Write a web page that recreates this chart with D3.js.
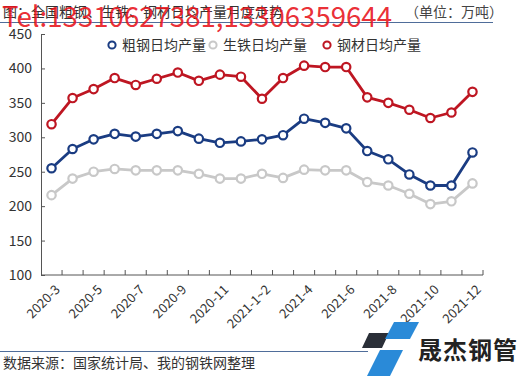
<!DOCTYPE html>
<html><head><meta charset="utf-8">
<script src="https://cdn.jsdelivr.net/npm/d3@7/dist/d3.min.js"></script>
<style>
body{margin:0;background:#fff;}
text{font-family:"Noto Sans CJK SC","Noto Sans",sans-serif;}
</style></head>
<body><svg id="c" width="520" height="376"></svg>
<script>
const categories = ["2020-3","2020-4","2020-5","2020-6","2020-7","2020-8","2020-9","2020-10","2020-11","2020-12","2021-1~2","2021-3","2021-4","2021-5","2021-6","2021-7","2021-8","2021-9","2021-10","2021-11","2021-12"];
const crudeSteel = [255,283,297,305,301,305,309,298,292,294,297,303,327,321,313,280,268,246,230,230,278];
const pigIron   = [216,240,250,254,252,252,252,247,240,240,247,241,253,252,252,235,230,218,203,207,233];
const steelProd = [319,357,370,386,376,385,394,382,391,388,356,386,404,402,402,358,350,340,328,336,366];
const yTicks = [100,150,200,250,300,350,400,450];
const seriesNames = ["粗钢日均产量","生铁日均产量","钢材日均产量"];
const colors = ["#1a3c82","#c8c8c8","#be1622"];

const svg = d3.select("#c");
const x = d3.scaleBand().domain(categories).range([41,483]);
const y = d3.scaleLinear().domain([100,450]).range([275,34]);

// title
svg.append("text").attr("x",3).attr("y",17).attr("font-size",14).attr("fill","#333").text("图：全国粗钢、生铁、钢材日均产量月度走势");
svg.append("text").attr("x",503).attr("y",17).attr("text-anchor","end").attr("font-size",14).attr("fill","#444").text("（单位：万吨）");
svg.append("line").attr("x1",0).attr("x2",493).attr("y1",22.5).attr("y2",22.5).attr("stroke","#4f6d9a").attr("stroke-width",1);

// y axis
const yAxis = d3.axisLeft(y).tickValues(yTicks).tickSize(-4).tickPadding(9);
const ga = svg.append("g").attr("transform","translate(41,0)").call(yAxis);
ga.select(".domain").attr("stroke","#555");
ga.selectAll(".tick line").attr("stroke","#555");
ga.selectAll("text").attr("font-size",14).attr("fill","#333").attr("font-family","'Noto Sans CJK SC',sans-serif");

// x axis
const gx = svg.append("g");
gx.append("line").attr("x1",41).attr("x2",483).attr("y1",y(100)).attr("y2",y(100)).attr("stroke","#555");
const bounds = categories.map(c=>x(c)).concat([x.range()[1]]);
gx.selectAll(".xt").data(bounds.slice(1)).join("line")
  .attr("x1",d=>d).attr("x2",d=>d).attr("y1",y(100)).attr("y2",y(100)-5).attr("stroke","#555");
gx.selectAll(".xl").data(categories.filter((c,i)=>i%2===0)).join("text")
  .attr("transform",d=>`translate(${x(d)+x.bandwidth()/2+3},${y(100)+9}) rotate(-45)`)
  .attr("text-anchor","end").attr("dy","0.7em").attr("font-size",13).attr("fill","#333").text(d=>d);

// lines
const data = [crudeSteel,pigIron,steelProd];
const line = d3.line().x((d,i)=>x(categories[i])+x.bandwidth()/2).y(d=>y(d));
[1,0,2].forEach(k=>{
  const g = svg.append("g");
  g.append("path").datum(data[k]).attr("d",line).attr("fill","none").attr("stroke",colors[k]).attr("stroke-width",2.8).attr("stroke-linejoin","round");
  g.selectAll("circle").data(data[k]).join("circle")
    .attr("cx",(d,i)=>x(categories[i])+x.bandwidth()/2).attr("cy",d=>y(d)).attr("r",4.2)
    .attr("fill","#fff").attr("stroke",colors[k]).attr("stroke-width",2.2);
});

// legend
const legX = [112,213,327];
seriesNames.forEach((n,k)=>{
  svg.append("circle").attr("cx",legX[k]).attr("cy",45).attr("r",3.6).attr("fill","#fff").attr("stroke",colors[k]).attr("stroke-width",2);
  svg.append("text").attr("x",legX[k]+10).attr("y",50).attr("font-size",14).attr("fill","#333").text(n);
});

// watermark
svg.append("text").attr("x",2).attr("y",27).attr("font-family","'Liberation Serif','Times New Roman',serif")
  .attr("font-size",28).attr("textLength",390).attr("lengthAdjust","spacingAndGlyphs")
  .attr("fill","#e8141c").attr("fill-opacity",0.9).text("Tel:13310627381,13306359644");

// footer
svg.append("line").attr("x1",0).attr("x2",368).attr("y1",351.5).attr("y2",351.5).attr("stroke","#4f6d9a").attr("stroke-width",1);
svg.append("text").attr("x",3).attr("y",368).attr("font-size",14).attr("fill","#333").text("数据来源：国家统计局、我的钢铁网整理");

// logo
const logo = svg.append("g");
logo.append("polygon").attr("points","369,333 389,333 382,348 362,348").attr("fill","#2a2f38");
logo.append("polygon").attr("points","394,322 419,322 410,339 385,339").attr("fill","#2a8ad8");
logo.append("polygon").attr("points","380,350 403,350 390,376 367,376").attr("fill","#2a8ad8");
logo.append("text").attr("x",418).attr("y",359).attr("font-size",24).attr("font-weight","bold").attr("fill","#222").attr("letter-spacing",1).text("晟杰钢管");
</script></body></html>
